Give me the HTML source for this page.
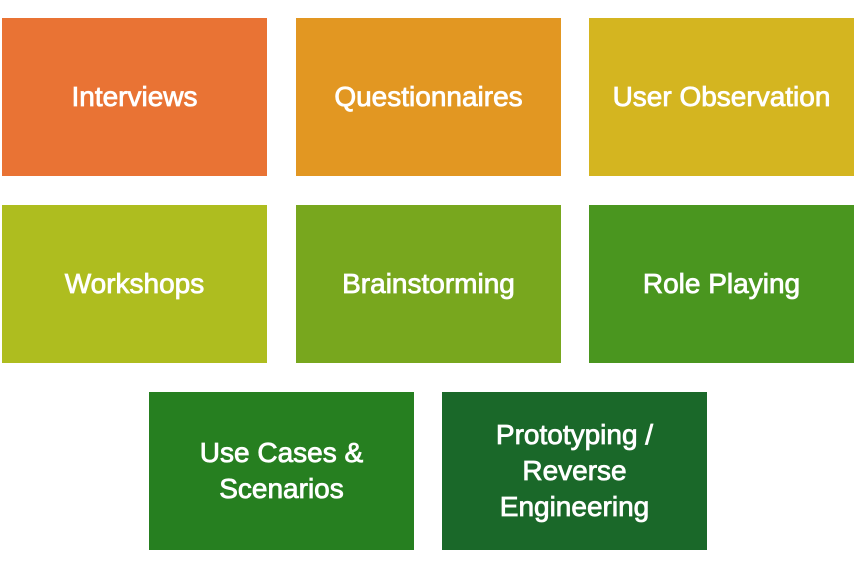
<!DOCTYPE html>
<html><head><meta charset="utf-8"><style>
html,body{margin:0;padding:0;background:#fff;width:856px;height:568px;overflow:hidden}
.b{position:absolute;width:265px;height:158px;display:flex;align-items:center;justify-content:center;text-align:center;color:#fff;font-family:"Liberation Sans",sans-serif;font-size:28px;line-height:36px;-webkit-text-stroke:0.8px #fff}
</style></head><body>
<div class="b" style="left:2px;top:18px;background:#E97334">Interviews</div>
<div class="b" style="left:296px;top:18px;background:#E29722">Questionnaires</div>
<div class="b" style="left:589px;top:18px;background:#D4B520">User Observation</div>
<div class="b" style="left:2px;top:205px;background:#AEBD1F">Workshops</div>
<div class="b" style="left:296px;top:205px;background:#78A71E">Brainstorming</div>
<div class="b" style="left:589px;top:205px;background:#4A961F">Role Playing</div>
<div class="b" style="left:149px;top:392px;background:#267F20">Use Cases &amp;<br>Scenarios</div>
<div class="b" style="left:442px;top:392px;background:#1A6829">Prototyping /<br>Reverse<br>Engineering</div>
</body></html>
